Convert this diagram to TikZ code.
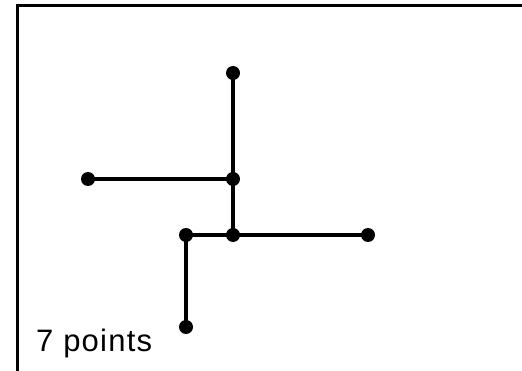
\documentclass[tikz,border=0pt]{standalone}
\usepackage{fontspec}
\setmainfont{Liberation Sans}
\newfontfamily\lblfont[LetterSpace=4]{Liberation Sans}
\begin{document}
\begin{tikzpicture}[x=1pt,y=-1pt,
  dot/.style={circle,fill=black,inner sep=0pt,minimum size=14pt},
  seg/.style={line width=3.5pt,black},
  frame/.style={line width=3pt,black}]
\useasboundingbox (0,0) rectangle (522,371);
\coordinate (fa) at (17,371);
\coordinate (fb) at (17,6);
\coordinate (fc) at (522,6);
\draw[frame] (fa) -- (fb) -- (fc);
\node[dot] (t) at (233,73) {};
\node[dot] (c) at (233,179) {};
\node[dot] (l) at (88,179) {};
\node[dot] (m) at (233,235) {};
\node[dot] (k) at (186,235) {};
\node[dot] (r) at (368,235) {};
\node[dot] (b) at (186,327) {};
\draw[seg] (t.center) -- (c.center) -- (m.center);
\draw[seg] (l.center) -- (c.center);
\draw[seg] (k.center) -- (m.center) -- (r.center);
\draw[seg] (k.center) -- (b.center);
\node[anchor=base west,inner sep=0pt,font=\lblfont\fontsize{31}{33}\selectfont] (lbl) at (36,352) {7 points};
\end{tikzpicture}
\end{document}
